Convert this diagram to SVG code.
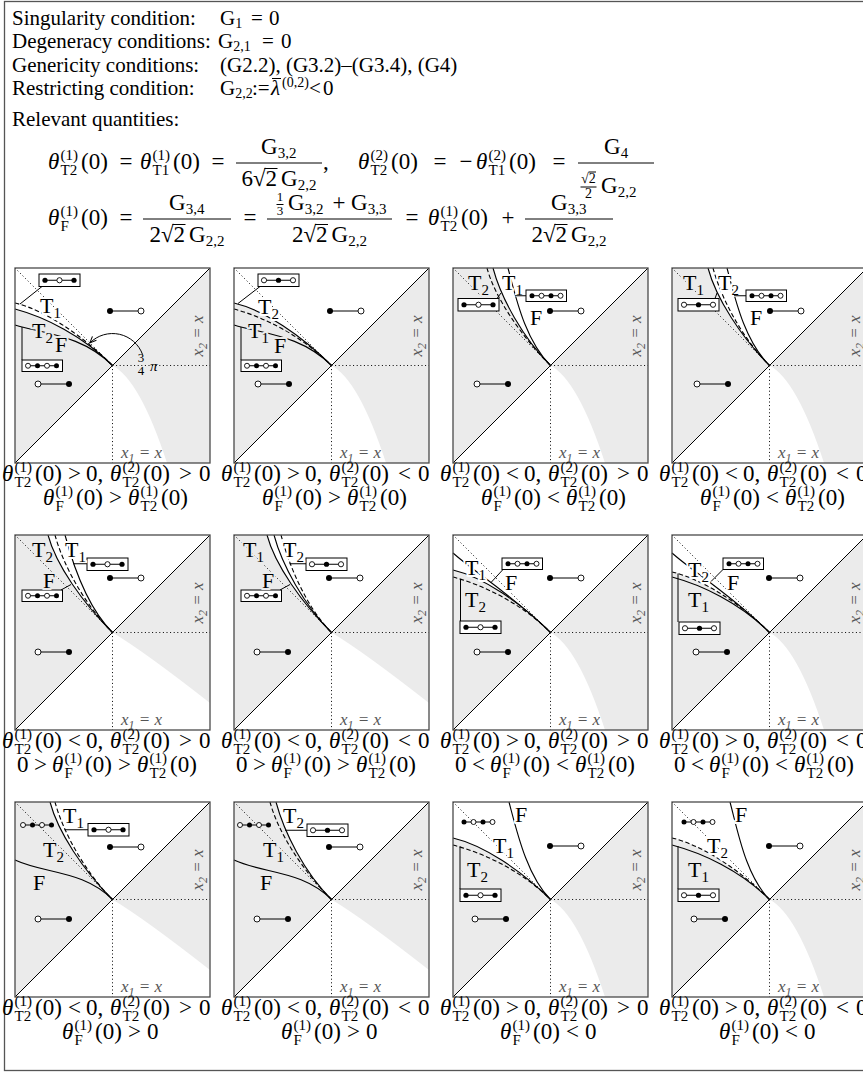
<svg xmlns="http://www.w3.org/2000/svg" width="863" height="1072" viewBox="0 0 863 1072">
<style>
text{font-family:"Liberation Serif","Times New Roman",serif;fill:#000}
.t{font-size:21px}
.ts{font-size:14px}
.m{font-size:23px}
.s{font-size:15px}
.sm{font-size:14px}
.sx{font-size:13px}
.i{font-style:italic}
.lb{font-size:22px}
.lsub{font-size:15px}
.ax{font-size:17px;font-style:italic;fill:#555}
.axs{font-size:12px}
.hw{stroke:#fff;stroke-width:4px;stroke-linejoin:round;paint-order:stroke}
.hg{stroke:#ebebeb;stroke-width:4px;stroke-linejoin:round;paint-order:stroke}
.gr{fill:#ebebeb}
.dg{stroke:#000;stroke-width:1;fill:none}
.dt{stroke:#000;stroke-width:1;stroke-dasharray:1 2.6;fill:none}
.cs{stroke:#000;stroke-width:1.1;fill:none}
.cd{stroke:#000;stroke-width:1.1;stroke-dasharray:4.5 2.5;fill:none}
.fr{fill:none;stroke:#4a4a4a;stroke-width:1.3}
.bx{fill:#fff;stroke:#000;stroke-width:1}
.ln{stroke:#000;stroke-width:1}
.df{fill:#000}
.do{fill:#fff;stroke:#000;stroke-width:0.9}
.ldr{stroke:#000;stroke-width:1;fill:none}
.bar{stroke:#000;stroke-width:1}
</style>
<defs>
<marker id="ah" viewBox="0 0 10 10" refX="9" refY="5" markerWidth="8" markerHeight="8" orient="auto" markerUnits="userSpaceOnUse"><path d="M1,1.5 L9,5 L1,8.5" fill="none" stroke="#000" stroke-width="1.3"/></marker>
<path id="ur" d="M97.5,97.5 L195,0 V97.5 Z"/>
<path id="lrs" d="M97.5,97.5 H195 V195 H152 Q125,112 97.5,97.5 Z"/>
<path id="lrf" d="M97.5,97.5 H195 V168 Q130,117 97.5,97.5 Z"/>
<g id="refl"><line class="dg" x1="0" y1="195" x2="195" y2="0"/><path class="dt" d="M0,0 L97.5,97.5 M97.5,97.5 H195 M97.5,97.5 V195"/></g>
<g id="axl"><text class="ax" x="106" y="190">x<tspan class="axs" dy="4">1</tspan><tspan dy="-4"> = </tspan>x</text><text class="ax" transform="translate(188,68) rotate(-90)" text-anchor="middle">x<tspan class="axs" dy="4">2</tspan><tspan dy="-4"> = </tspan>x</text></g>
<g id="b3fof"><rect class="bx" width="41" height="12.5"/><line class="ln" x1="6" y1="6.25" x2="35" y2="6.25"/><circle class="df" cx="6" cy="6.25" r="2.6"/><circle class="do" cx="20.5" cy="6.25" r="2.6"/><circle class="df" cx="35" cy="6.25" r="2.6"/></g>
<g id="b3ofo"><rect class="bx" width="41" height="12.5"/><line class="ln" x1="6" y1="6.25" x2="35" y2="6.25"/><circle class="do" cx="6" cy="6.25" r="2.6"/><circle class="df" cx="20.5" cy="6.25" r="2.6"/><circle class="do" cx="35" cy="6.25" r="2.6"/></g>
<g id="b4ofof"><rect class="bx" width="40.5" height="11.5"/><line class="ln" x1="6" y1="5.75" x2="34.5" y2="5.75"/><circle class="do" cx="6" cy="5.75" r="2.5"/><circle class="df" cx="15.5" cy="5.75" r="2.5"/><circle class="do" cx="25" cy="5.75" r="2.5"/><circle class="df" cx="34.5" cy="5.75" r="2.5"/></g>
<g id="b4fofo"><rect class="bx" width="40.5" height="11.5"/><line class="ln" x1="6" y1="5.75" x2="34.5" y2="5.75"/><circle class="df" cx="6" cy="5.75" r="2.5"/><circle class="do" cx="15.5" cy="5.75" r="2.5"/><circle class="df" cx="25" cy="5.75" r="2.5"/><circle class="do" cx="34.5" cy="5.75" r="2.5"/></g>
<g id="u4ofof"><line class="ln" x1="0" y1="0" x2="28.5" y2="0"/><circle class="do" cx="0" cy="0" r="2.5"/><circle class="df" cx="9.5" cy="0" r="2.5"/><circle class="do" cx="19" cy="0" r="2.5"/><circle class="df" cx="28.5" cy="0" r="2.5"/></g>
<g id="u4fofo"><line class="ln" x1="0" y1="0" x2="28.5" y2="0"/><circle class="df" cx="0" cy="0" r="2.5"/><circle class="do" cx="9.5" cy="0" r="2.5"/><circle class="df" cx="19" cy="0" r="2.5"/><circle class="do" cx="28.5" cy="0" r="2.5"/></g>
<g id="dfo"><line class="ln" x1="0" y1="0" x2="31" y2="0"/><circle class="df" cx="0" cy="0" r="3"/><circle class="do" cx="31" cy="0" r="3"/></g>
<g id="dof"><line class="ln" x1="0" y1="0" x2="31" y2="0"/><circle class="do" cx="0" cy="0" r="3"/><circle class="df" cx="31" cy="0" r="3"/></g>
<g id="tT2a"><text class="m"><tspan class="i" x="0" y="0">θ</tspan><tspan class="s" x="12.5" y="-9">(1)</tspan><tspan class="s" x="12.5" y="6">T2</tspan><tspan x="33" y="0">(0)</tspan></text></g>
<g id="tT2b"><text class="m"><tspan class="i" x="0" y="0">θ</tspan><tspan class="s" x="12.5" y="-9">(2)</tspan><tspan class="s" x="12.5" y="6">T2</tspan><tspan x="33" y="0">(0)</tspan></text></g>
<g id="tT1a"><text class="m"><tspan class="i" x="0" y="0">θ</tspan><tspan class="s" x="12.5" y="-9">(1)</tspan><tspan class="s" x="12.5" y="6">T1</tspan><tspan x="33" y="0">(0)</tspan></text></g>
<g id="tT1b"><text class="m"><tspan class="i" x="0" y="0">θ</tspan><tspan class="s" x="12.5" y="-9">(2)</tspan><tspan class="s" x="12.5" y="6">T1</tspan><tspan x="33" y="0">(0)</tspan></text></g>
<g id="tFa"><text class="m"><tspan class="i" x="0" y="0">θ</tspan><tspan class="s" x="12.5" y="-9">(1)</tspan><tspan class="s" x="12.5" y="6">F</tspan><tspan x="33" y="0">(0)</tspan></text></g>
<g id="L1pp"><use href="#tT2a"/><text class="m" x="72.5" text-anchor="middle">&gt;</text><text class="m" x="84">0,</text><use href="#tT2b" x="108"/><text class="m" x="183.5" text-anchor="middle">&gt;</text><text class="m" x="197">0</text></g>
<g id="L1pm"><use href="#tT2a"/><text class="m" x="72.5" text-anchor="middle">&gt;</text><text class="m" x="84">0,</text><use href="#tT2b" x="108"/><text class="m" x="183.5" text-anchor="middle">&lt;</text><text class="m" x="197">0</text></g>
<g id="L1mp"><use href="#tT2a"/><text class="m" x="72.5" text-anchor="middle">&lt;</text><text class="m" x="84">0,</text><use href="#tT2b" x="108"/><text class="m" x="183.5" text-anchor="middle">&gt;</text><text class="m" x="197">0</text></g>
<g id="L1mm"><use href="#tT2a"/><text class="m" x="72.5" text-anchor="middle">&lt;</text><text class="m" x="84">0,</text><use href="#tT2b" x="108"/><text class="m" x="183.5" text-anchor="middle">&lt;</text><text class="m" x="197">0</text></g>
<g id="L2ag"><use href="#tFa"/><text class="m" x="72.5" text-anchor="middle">&gt;</text><use href="#tT2a" x="85"/></g>
<g id="L2al"><use href="#tFa"/><text class="m" x="72.5" text-anchor="middle">&lt;</text><use href="#tT2a" x="85"/></g>
<g id="L2bg"><text class="m" x="0">0</text><text class="m" x="23.5" text-anchor="middle">&gt;</text><use href="#tFa" x="35"/><text class="m" x="107.5" text-anchor="middle">&gt;</text><use href="#tT2a" x="120"/></g>
<g id="L2bl"><text class="m" x="0">0</text><text class="m" x="23.5" text-anchor="middle">&lt;</text><use href="#tFa" x="35"/><text class="m" x="107.5" text-anchor="middle">&lt;</text><use href="#tT2a" x="120"/></g>
<g id="L2cg"><use href="#tFa"/><text class="m" x="72.5" text-anchor="middle">&gt;</text><text class="m" x="85">0</text></g>
<g id="L2cl"><use href="#tFa"/><text class="m" x="72.5" text-anchor="middle">&lt;</text><text class="m" x="85">0</text></g>
</defs>

<rect id="outer-frame" x="4.5" y="1.5" width="880" height="1069" fill="#fff" stroke="#555" stroke-width="1.3"/>

<g id="header">
<text class="t" x="12" y="24.5">Singularity condition:</text>
<text class="t" x="220" y="24.5">G<tspan class="ts" dy="3">1</tspan></text>
<text class="t" x="257" y="24.5" text-anchor="middle">=</text>
<text class="t" x="269" y="24.5">0</text>
<text class="t" x="12" y="48">Degeneracy conditions:</text>
<text class="t" x="218" y="48">G<tspan class="ts" dy="3">2,1</tspan></text>
<text class="t" x="268" y="48" text-anchor="middle">=</text>
<text class="t" x="281" y="48">0</text>
<text class="t" x="12" y="71.5">Genericity conditions:</text>
<text class="t" x="220" y="71.5">(G2.2), (G3.2)–(G3.4), (G4)</text>
<text class="t" x="12" y="95">Restricting condition:</text>
<text class="t" x="220" y="95">G<tspan class="ts" dy="3">2,2</tspan></text>
<text class="t" x="252" y="95">:=</text>
<text class="t i" x="271" y="95">λ</text>
<line class="bar" x1="272" y1="78.5" x2="281" y2="78.5"/>
<text class="ts" x="282" y="87">(0,2)</text>
<text class="t" x="315" y="95" text-anchor="middle">&lt;</text>
<text class="t" x="323" y="95">0</text>
<text class="t" x="12" y="126">Relevant quantities:</text>
</g>

<g id="formulas">
<use href="#tT2a" x="48" y="169"/>
<text class="m" x="126" y="169" text-anchor="middle">=</text>
<use href="#tT1a" x="140" y="169"/>
<text class="m" x="218" y="169" text-anchor="middle">=</text>
<line class="bar" x1="236" y1="163" x2="322" y2="163"/>
<text class="m" x="261" y="154">G<tspan class="s" dy="4">3,2</tspan></text>
<text class="m" x="241.5" y="186">6√2</text>
<line class="bar" x1="264.5" y1="168.5" x2="277.5" y2="168.5"/>
<text class="m" x="281" y="186">G<tspan class="s" dy="4">2,2</tspan></text>
<text class="m" x="323" y="169">,</text>
<use href="#tT2b" x="358" y="169"/>
<text class="m" x="440" y="169" text-anchor="middle">=</text>
<text class="m" x="466" y="169" text-anchor="middle">−</text>
<use href="#tT1b" x="476" y="169"/>
<text class="m" x="559" y="169" text-anchor="middle">=</text>
<line class="bar" x1="578" y1="163" x2="654" y2="163"/>
<text class="m" x="604" y="154">G<tspan class="s" dy="4">4</tspan></text>
<text class="sm" x="581" y="183">√2</text>
<line class="bar" x1="588.5" y1="172" x2="596" y2="172"/>
<line class="bar" x1="580.5" y1="187" x2="596.5" y2="187"/>
<text class="sm" x="588.5" y="198" text-anchor="middle">2</text>
<text class="m" x="601" y="193">G<tspan class="s" dy="4">2,2</tspan></text>

<use href="#tFa" x="48" y="225"/>
<text class="m" x="126" y="225" text-anchor="middle">=</text>
<line class="bar" x1="143" y1="219" x2="231" y2="219"/>
<text class="m" x="169" y="210">G<tspan class="s" dy="4">3,4</tspan></text>
<text class="m" x="149.5" y="242">2√2</text>
<line class="bar" x1="172.5" y1="224.5" x2="185.5" y2="224.5"/>
<text class="m" x="189" y="242">G<tspan class="s" dy="4">2,2</tspan></text>
<text class="m" x="250" y="225" text-anchor="middle">=</text>
<line class="bar" x1="267" y1="219" x2="392" y2="219"/>
<text class="sx" x="280" y="201" text-anchor="middle">1</text>
<line class="bar" x1="276.5" y1="204.5" x2="283.5" y2="204.5"/>
<text class="sx" x="280" y="215" text-anchor="middle">3</text>
<text class="m" x="288" y="210">G<tspan class="s" dy="4">3,2</tspan></text>
<text class="m" x="339" y="210" text-anchor="middle">+</text>
<text class="m" x="351" y="210">G<tspan class="s" dy="4">3,3</tspan></text>
<text class="m" x="292" y="242">2√2</text>
<line class="bar" x1="315" y1="224.5" x2="328" y2="224.5"/>
<text class="m" x="331.5" y="242">G<tspan class="s" dy="4">2,2</tspan></text>
<text class="m" x="412" y="225" text-anchor="middle">=</text>
<use href="#tT2a" x="428" y="225"/>
<text class="m" x="508" y="225" text-anchor="middle">+</text>
<line class="bar" x1="525" y1="219" x2="613" y2="219"/>
<text class="m" x="551" y="210">G<tspan class="s" dy="4">3,3</tspan></text>
<text class="m" x="531.5" y="242">2√2</text>
<line class="bar" x1="554.5" y1="224.5" x2="567.5" y2="224.5"/>
<text class="m" x="571" y="242">G<tspan class="s" dy="4">2,2</tspan></text>
</g>

<g id="panel-r1c1" transform="translate(15,268)">
<path class="gr" d="M0,41 C30,49 68,68 97.5,97.5 L0,195 Z"/>
<use href="#ur" class="gr"/><use href="#lrs" class="gr"/><use href="#refl"/>
<path class="cd" d="M0,35 C30,42 68,68 97.5,97.5"/>
<path class="cs" d="M0,41 C30,49 68,68 97.5,97.5"/>
<path class="cs" d="M0,57 C30,66 67,67 97.5,97.5"/>
<use href="#b3fof" x="24" y="6"/><use href="#b4ofof" x="7" y="92"/>
<use href="#dfo" x="95" y="43"/><use href="#dof" x="23" y="116"/>
<text class="lb hw" x="25" y="45">T<tspan class="lsub" dy="5">1</tspan></text>
<text class="lb hg" x="17" y="70">T<tspan class="lsub" dy="5">2</tspan></text>
<text class="lb hg" x="40" y="84">F</text>
<text class="sx" x="126" y="94" text-anchor="middle">3</text>
<text class="sx" x="126" y="107" text-anchor="middle">4</text>
<text class="s i" x="135" y="103">π</text>
<use href="#axl"/><rect class="fr" width="195" height="195"/>
<use href="#L1pp" x="-13" y="213"/><use href="#L2ag" x="28" y="237"/>
</g>

<g id="panel-r1c2" transform="translate(234,268)">
<path class="gr" d="M0,35 C30,42 68,68 97.5,97.5 L0,195 Z"/>
<use href="#ur" class="gr"/><use href="#lrs" class="gr"/><use href="#refl"/>
<path class="cs" d="M0,35 C30,42 68,68 97.5,97.5"/>
<path class="cd" d="M0,41 C30,49 68,68 97.5,97.5"/>
<path class="cs" d="M0,57 C30,66 67,67 97.5,97.5"/>
<use href="#b3ofo" x="24" y="6"/><use href="#b4ofof" x="7" y="92"/>
<use href="#dfo" x="96" y="43"/><use href="#dof" x="24" y="116"/>
<text class="lb hw" x="24" y="46">T<tspan class="lsub" dy="5">2</tspan></text>
<text class="lb hg" x="14" y="70">T<tspan class="lsub" dy="5">1</tspan></text>
<text class="lb hg" x="40" y="85">F</text>
<use href="#axl"/><rect class="fr" width="195" height="195"/>
<use href="#L1pm" x="-13" y="213"/><use href="#L2ag" x="28" y="237"/>
</g>

<g id="panel-r1c3" transform="translate(453,268)">
<path class="gr" d="M0,0 H40 C48,30 70,70 97.5,97.5 L0,195 Z"/>
<use href="#ur" class="gr"/><use href="#lrs" class="gr"/><use href="#refl"/>
<path class="cd" d="M34,0 C42,30 69,69 97.5,97.5"/>
<path class="cs" d="M40,0 C48,30 70,70 97.5,97.5"/>
<path class="cs" d="M55,0 C63,30 72,72 97.5,97.5"/>
<use href="#b3fof" x="5" y="30.5"/><use href="#b4fofo" x="73" y="22"/>
<use href="#dfo" x="97" y="43"/><use href="#dof" x="24" y="116"/>
<text class="lb hg" x="15" y="22">T<tspan class="lsub" dy="5">2</tspan></text>
<text class="lb hw" x="49" y="22">T<tspan class="lsub" dy="5">1</tspan></text>
<text class="lb hw" x="77" y="57">F</text>
<use href="#axl"/><rect class="fr" width="195" height="195"/>
<use href="#L1mp" x="-13" y="213"/><use href="#L2al" x="28" y="237"/>
</g>

<g id="panel-r1c4" transform="translate(672,268)">
<path class="gr" d="M0,0 H36 C44,30 69,69 97.5,97.5 L0,195 Z"/>
<use href="#ur" class="gr"/><use href="#lrs" class="gr"/><use href="#refl"/>
<path class="cs" d="M36,0 C44,30 69,69 97.5,97.5"/>
<path class="cd" d="M41,0 C49,30 70,70 97.5,97.5"/>
<path class="cs" d="M55,0 C63,30 72,72 97.5,97.5"/>
<use href="#b3ofo" x="6" y="30.5"/><use href="#b4fofo" x="74" y="22"/>
<use href="#dfo" x="98" y="43"/><use href="#dof" x="25" y="116"/>
<text class="lb hg" x="11" y="22">T<tspan class="lsub" dy="5">1</tspan></text>
<text class="lb hw" x="46" y="22">T<tspan class="lsub" dy="5">2</tspan></text>
<text class="lb hw" x="78" y="57">F</text>
<use href="#axl"/><rect class="fr" width="195" height="195"/>
<use href="#L1mm" x="-13" y="213"/><use href="#L2al" x="28" y="237"/>
</g>

<g id="panel-r2c1" transform="translate(15,535)">
<path class="gr" d="M0,0 H33 C41,30 68,68 97.5,97.5 L0,195 Z"/>
<use href="#ur" class="gr"/><use href="#lrf" class="gr"/><use href="#refl"/>
<path class="cs" d="M33,0 C41,30 68,68 97.5,97.5"/>
<path class="cd" d="M40,0 C48,30 70,70 97.5,97.5"/>
<path class="cs" d="M50,0 C58,30 72,72 97.5,97.5"/>
<use href="#b3fof" x="72" y="23"/><use href="#b4ofof" x="7" y="55"/>
<use href="#dfo" x="95" y="43"/><use href="#dof" x="23" y="117"/>
<text class="lb hg" x="17" y="22">T<tspan class="lsub" dy="5">2</tspan></text>
<text class="lb hw" x="50" y="22">T<tspan class="lsub" dy="5">1</tspan></text>
<text class="lb hg" x="28" y="53">F</text>
<use href="#axl"/><rect class="fr" width="195" height="195"/>
<use href="#L1mp" x="-13" y="213"/><use href="#L2bg" x="2" y="237"/>
</g>

<g id="panel-r2c2" transform="translate(234,535)">
<path class="gr" d="M0,0 H33 C41,30 68,68 97.5,97.5 L0,195 Z"/>
<use href="#ur" class="gr"/><use href="#lrf" class="gr"/><use href="#refl"/>
<path class="cs" d="M33,0 C41,30 68,68 97.5,97.5"/>
<path class="cs" d="M40,0 C48,30 70,70 97.5,97.5"/>
<path class="cd" d="M47,0 C55,30 72,72 97.5,97.5"/>
<use href="#b3ofo" x="72" y="23"/><use href="#b4ofof" x="7" y="55"/>
<use href="#dfo" x="95" y="43"/><use href="#dof" x="23" y="117"/>
<text class="lb hg" x="9" y="22">T<tspan class="lsub" dy="5">1</tspan></text>
<text class="lb hw" x="49" y="22">T<tspan class="lsub" dy="5">2</tspan></text>
<text class="lb hg" x="28" y="53">F</text>
<use href="#axl"/><rect class="fr" width="195" height="195"/>
<use href="#L1mm" x="-13" y="213"/><use href="#L2bg" x="2" y="237"/>
</g>

<g id="panel-r2c3" transform="translate(453,535)">
<path class="gr" d="M0,35 C30,42 68,68 97.5,97.5 L0,195 Z"/>
<use href="#ur" class="gr"/><use href="#lrs" class="gr"/><use href="#refl"/>
<path class="cs" d="M0,18 C20,36 62,62 97.5,97.5"/>
<path class="cs" d="M0,35 C30,42 68,68 97.5,97.5"/>
<path class="cd" d="M0,42 C30,50 68,68 97.5,97.5"/>
<use href="#b4fofo" x="49" y="23"/><use href="#b3fof" x="7" y="86"/>
<use href="#dfo" x="97" y="43"/><use href="#dof" x="24" y="117"/>
<text class="lb hw" x="12" y="40">T<tspan class="lsub" dy="5">1</tspan></text>
<text class="lb hg" x="12" y="72">T<tspan class="lsub" dy="5">2</tspan></text>
<text class="lb hw" x="52" y="55">F</text>
<use href="#axl"/><rect class="fr" width="195" height="195"/>
<use href="#L1pp" x="-13" y="213"/><use href="#L2bl" x="2" y="237"/>
</g>

<g id="panel-r2c4" transform="translate(672,535)">
<path class="gr" d="M0,37 C30,44 68,68 97.5,97.5 L0,195 Z"/>
<use href="#ur" class="gr"/><use href="#lrs" class="gr"/><use href="#refl"/>
<path class="cs" d="M0,18 C20,36 62,62 97.5,97.5"/>
<path class="cd" d="M0,37 C30,44 68,68 97.5,97.5"/>
<path class="cs" d="M0,42 C30,50 68,68 97.5,97.5"/>
<use href="#b4fofo" x="51" y="23"/><use href="#b3ofo" x="7" y="87"/>
<use href="#dfo" x="97" y="43"/><use href="#dof" x="24" y="117"/>
<text class="lb hw" x="16" y="42">T<tspan class="lsub" dy="5">2</tspan></text>
<text class="lb hg" x="16" y="72">T<tspan class="lsub" dy="5">1</tspan></text>
<text class="lb hw" x="55" y="55">F</text>
<use href="#axl"/><rect class="fr" width="195" height="195"/>
<use href="#L1pm" x="-13" y="213"/><use href="#L2bl" x="2" y="237"/>
</g>

<g id="panel-r3c1" transform="translate(15,802)">
<path class="gr" d="M0,0 H35 C43,30 68,68 97.5,97.5 L0,195 Z"/>
<use href="#ur" class="gr"/><use href="#lrf" class="gr"/><use href="#refl"/>
<path class="cs" d="M35,0 C43,30 68,68 97.5,97.5"/>
<path class="cd" d="M40,0 C48,30 70,70 97.5,97.5"/>
<path class="cs" d="M0,58 C30,72 68,68 97.5,97.5"/>
<use href="#u4ofof" x="8" y="23"/><use href="#b3fof" x="73" y="21.5"/>
<use href="#dfo" x="95" y="45"/><use href="#dof" x="23" y="117"/>
<text class="lb hw" x="48" y="21">T<tspan class="lsub" dy="5">1</tspan></text>
<text class="lb hg" x="28" y="55">T<tspan class="lsub" dy="5">2</tspan></text>
<text class="lb hg" x="18" y="88">F</text>
<use href="#axl"/><rect class="fr" width="195" height="195"/>
<use href="#L1mp" x="-13" y="213"/><use href="#L2cg" x="47" y="237"/>
</g>

<g id="panel-r3c2" transform="translate(234,802)">
<path class="gr" d="M0,0 H42 C50,30 70,70 97.5,97.5 L0,195 Z"/>
<use href="#ur" class="gr"/><use href="#lrf" class="gr"/><use href="#refl"/>
<path class="cd" d="M36,0 C44,30 68,68 97.5,97.5"/>
<path class="cs" d="M42,0 C50,30 70,70 97.5,97.5"/>
<path class="cs" d="M0,58 C30,72 68,68 97.5,97.5"/>
<use href="#u4ofof" x="6" y="23"/><use href="#b3ofo" x="73" y="22"/>
<use href="#dfo" x="95" y="45"/><use href="#dof" x="23" y="117"/>
<text class="lb hw" x="49" y="21">T<tspan class="lsub" dy="5">2</tspan></text>
<text class="lb hg" x="29" y="55">T<tspan class="lsub" dy="5">1</tspan></text>
<text class="lb hg" x="26" y="88">F</text>
<use href="#axl"/><rect class="fr" width="195" height="195"/>
<use href="#L1mm" x="-13" y="213"/><use href="#L2cg" x="47" y="237"/>
</g>

<g id="panel-r3c3" transform="translate(453,802)">
<path class="gr" d="M0,36 C30,43 68,68 97.5,97.5 L0,195 Z"/>
<use href="#ur" class="gr"/><use href="#lrs" class="gr"/><use href="#refl"/>
<path class="cs" d="M56,0 C64,30 74,74 97.5,97.5"/>
<path class="cs" d="M0,36 C30,43 68,68 97.5,97.5"/>
<path class="cd" d="M0,43 C30,51 68,68 97.5,97.5"/>
<use href="#u4fofo" x="11" y="20"/><use href="#b3fof" x="7" y="87"/>
<use href="#dfo" x="97" y="44"/><use href="#dof" x="22" y="117"/>
<text class="lb hw" x="62" y="20">F</text>
<text class="lb hw" x="40" y="51">T<tspan class="lsub" dy="5">1</tspan></text>
<text class="lb hg" x="14" y="75">T<tspan class="lsub" dy="5">2</tspan></text>
<use href="#axl"/><rect class="fr" width="195" height="195"/>
<use href="#L1pp" x="-13" y="213"/><use href="#L2cl" x="47" y="237"/>
</g>

<g id="panel-r3c4" transform="translate(672,802)">
<path class="gr" d="M0,36 C30,43 68,68 97.5,97.5 L0,195 Z"/>
<use href="#ur" class="gr"/><use href="#lrs" class="gr"/><use href="#refl"/>
<path class="cs" d="M58,0 C66,30 74,74 97.5,97.5"/>
<path class="cd" d="M0,36 C30,43 68,68 97.5,97.5"/>
<path class="cs" d="M0,43 C30,51 68,68 97.5,97.5"/>
<use href="#u4fofo" x="12" y="20"/><use href="#b3ofo" x="6" y="87"/>
<use href="#dfo" x="97" y="44"/><use href="#dof" x="22" y="117"/>
<text class="lb hw" x="63" y="20">F</text>
<text class="lb hw" x="35" y="51">T<tspan class="lsub" dy="5">2</tspan></text>
<text class="lb hg" x="16" y="75">T<tspan class="lsub" dy="5">1</tspan></text>
<use href="#axl"/><rect class="fr" width="195" height="195"/>
<use href="#L1pm" x="-13" y="213"/><use href="#L2cl" x="47" y="237"/>
</g>

<g id="connectors">
<g transform="translate(15,268)">
<line class="ldr" x1="27" y1="18.5" x2="5" y2="36"/>
<line class="ldr" x1="7" y1="92" x2="7" y2="59"/>
<path class="ldr" d="M127.6,86.6 A32,32 0 0 0 74.9,74.9" marker-end="url(#ah)"/>
</g>
<g transform="translate(234,268)">
<line class="ldr" x1="26" y1="18.5" x2="4" y2="35.5"/>
<line class="ldr" x1="7" y1="92" x2="7" y2="59"/>
</g>
<g transform="translate(453,268)">
<line class="ldr" x1="44" y1="30.5" x2="48" y2="25"/>
<line class="ldr" x1="73" y1="27.75" x2="62" y2="27.75"/>
</g>
<g transform="translate(672,268)">
<line class="ldr" x1="43" y1="30.5" x2="45" y2="25"/>
<line class="ldr" x1="74" y1="27.75" x2="62" y2="27.75"/>
</g>
<g transform="translate(15,535)">
<line class="ldr" x1="72" y1="28.75" x2="58" y2="28.75"/>
<line class="ldr" x1="46" y1="55" x2="56" y2="49.5"/>
</g>
<g transform="translate(234,535)">
<line class="ldr" x1="72" y1="28.75" x2="55.5" y2="28.75"/>
<line class="ldr" x1="46" y1="55" x2="56" y2="49.5"/>
</g>
<g transform="translate(453,535)">
<line class="ldr" x1="50" y1="34.5" x2="38" y2="47.5"/>
<line class="ldr" x1="7.5" y1="86" x2="7.5" y2="44"/>
</g>
<g transform="translate(672,535)">
<line class="ldr" x1="51" y1="34.5" x2="39" y2="46.5"/>
<line class="ldr" x1="6" y1="87" x2="6" y2="38.5"/>
</g>
<g transform="translate(15,802)">
<line class="ldr" x1="73" y1="27.75" x2="49.5" y2="27.75"/>
</g>
<g transform="translate(234,802)">
<line class="ldr" x1="73" y1="28.25" x2="51" y2="28.25"/>
</g>
<g transform="translate(453,802)">
<line class="ldr" x1="7" y1="87" x2="7" y2="44.5"/>
</g>
<g transform="translate(672,802)">
<line class="ldr" x1="6" y1="87" x2="6" y2="44"/>
</g>
</g>
</svg>
